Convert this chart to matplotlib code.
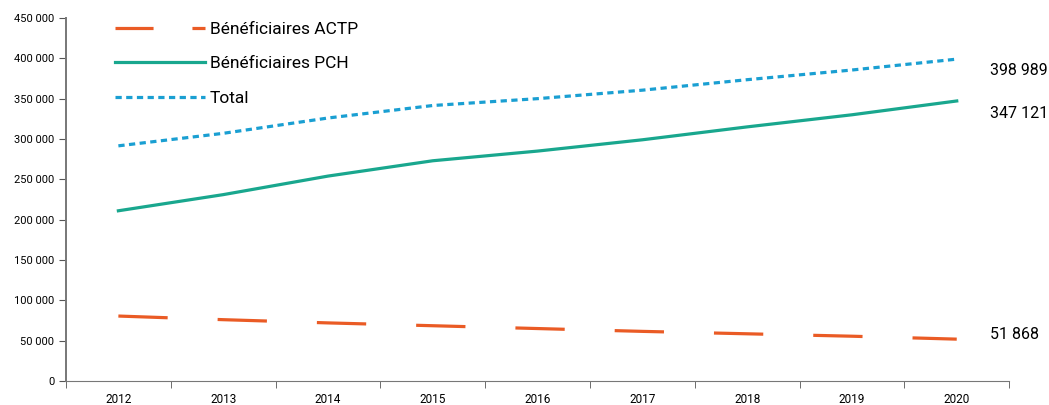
import matplotlib.pyplot as plt
import numpy as np
from matplotlib.lines import Line2D
from matplotlib.ticker import FuncFormatter

plt.rcParams['font.family'] = ['Roboto', 'DejaVu Sans']

years = ['2012', '2013', '2014', '2015', '2016', '2017', '2018', '2019', '2020']
actp = [80500, 76000, 72000, 68500, 65000, 61500, 58500, 55500, 51868]
pch = [211000, 231000, 254000, 273000, 285000, 299000, 315000, 330000, 347121]
total = [291500, 307000, 326000, 341500, 350000, 360500, 373500, 385500, 398989]

c_actp, c_pch, c_tot = '#EA5B25', '#19A78E', '#1A9FD2'

fig = plt.figure(figsize=(10.49, 4.05), dpi=100)
ax = fig.add_axes([0.0629, 0.0593, 0.8991, 0.8963])

x = np.arange(len(years))
lw = 2.3
ln_actp, = ax.plot(x, actp, color=c_actp, lw=lw)
ln_actp.set_dashes([35.5 / lw, 36 / lw])
ln_pch, = ax.plot(x, pch, color=c_pch, lw=lw)
ln_tot, = ax.plot(x, total, color=c_tot, lw=lw)
ln_tot.set_dashes([4.5 / lw, 3.2 / lw])

# end labels, nudged like the original
for vals, dy in ((total, -8), (pch, -9), (actp, 3)):
    v = vals[-1]
    ax.annotate(f'{v:,}'.replace(',', ' '), (8, v), xytext=(24, dy), textcoords='offset points',
                fontsize=11.5, va='center', ha='left')

ax.set_xlim(-0.5, 8.5)
ax.set_ylim(0, 450000)
ax.set_yticks(range(0, 450001, 50000))
ax.yaxis.set_major_formatter(FuncFormatter(lambda v, p: f'{int(v):,}'.replace(',', ' ')))
ax.set_xticks(x)
ax.set_xticklabels(years)
ax.set_xticks(np.arange(-0.5, 9, 1), minor=True)
ax.tick_params(axis='x', which='major', length=0, labelsize=8.5, pad=9)
ax.tick_params(axis='x', which='minor', length=5, color='#555555')
ax.tick_params(axis='y', length=5, labelsize=8, color='#555555')

for s in ['top', 'right']:
    ax.spines[s].set_visible(False)
ax.spines['left'].set_color('#777777')
ax.spines['left'].set_linewidth(1.4)
ax.spines['bottom'].set_color('#777777')

# legend handle for ACTP has shorter dashes than the plotted line
h_actp = Line2D([], [], color=c_actp, lw=lw, dashes=[27.4 / lw, 28 / lw])
ax.legend([h_actp, ln_pch, ln_tot], ['Bénéficiaires ACTP', 'Bénéficiaires PCH', 'Total'],
          loc='upper left', bbox_to_anchor=(115 / 1049, 1 - 22 / 405), bbox_transform=fig.transFigure,
          frameon=False, fontsize=12.5, borderpad=0, borderaxespad=0,
          handlelength=5.2, handletextpad=0.25, labelspacing=1.1)

plt.savefig('out.png')
